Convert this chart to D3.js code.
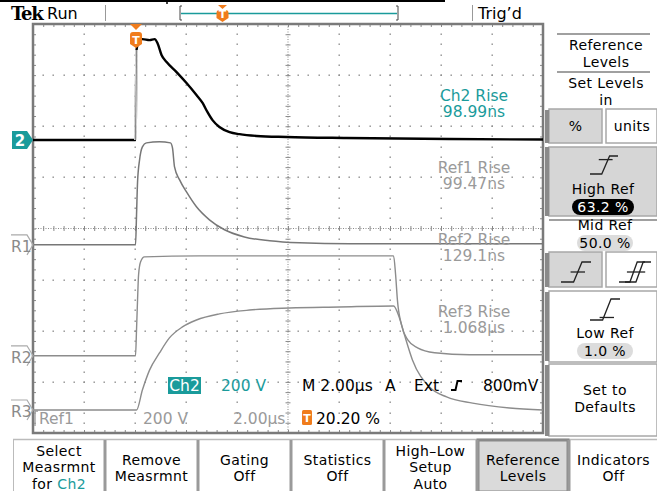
<!DOCTYPE html>
<html>
<head>
<meta charset="utf-8">
<script src="https://cdn.jsdelivr.net/npm/d3@7/dist/d3.min.js"></script>
<style>
  body { margin: 0; background: #fff; }
  svg { display: block; font-family: 'DejaVu Sans', sans-serif; }
</style>
</head>
<body>
<script>
/**
 * Scope screen: rise time of Ch2 and three reference traces
 **/

var svg, x, yDiv;

// Colours
var teal = '#1a9b9b',
    orange = '#f07c1c',
    refColor = '#8c8c8c',
    textGray = '#9a9a9a',
    gridColor = '#8a8a8a';

// Acquisition settings
var timePerDiv = 2.00,   // µs
    voltsPerDiv = 200,   // V
    triggerPct = 20.20,
    xDivs = 10,
    yDivs = 8;

// Ch2 (time in µs, volts)
var ch2Time  = [-4.04, -0.02, 0.02, 0.10, 0.25, 0.53, 0.73, 0.84, 1.00, 1.20, 1.59, 1.98, 2.37, 2.61, 2.80, 3.00, 3.27, 3.67, 4.06, 4.73, 5.90, 8.25, 12.3, 15.96];
var ch2Volts = [0, 0, 352, 383, 395, 391, 395, 380, 333, 305, 266, 223, 176, 145, 110, 78, 51, 31, 23, 16, 12, 8, 4, 2];

// Ref1
var ref1Time  = [-4.04, -0.02, 0.02, 0.06, 0.14, 0.25, 0.41, 0.92, 1.35, 1.43, 1.51, 1.71, 1.98, 2.37, 2.88, 3.47, 4.25, 5.24, 6.41, 8.37, 15.96];
var ref1Volts = [0, 0, 117, 246, 333, 383, 399, 403, 399, 379, 305, 254, 207, 149, 98, 59, 31, 16, 8, 4, 4];

// Ref2
var ref2Time  = [-4.04, -0.02, 0.02, 0.06, 0.10, 0.18, 0.33, 2.49, 6.41, 10.1, 10.18, 10.25, 10.41, 10.65, 11.04, 11.71, 13.08, 15.96];
var ref2Volts = [0, 0, 102, 219, 317, 368, 387, 391, 391, 391, 317, 219, 121, 63, 31, 12, 4, 4];

// Ref3
var ref3Time  = [-4.04, 0.02, 0.25, 0.53, 0.92, 1.31, 1.82, 2.37, 3.27, 4.45, 6.02, 7.98, 10.1, 10.33, 10.53, 10.84, 11.51, 12.18, 13.2, 14.65, 15.96];
var ref3Volts = [0, 0, 78, 156, 223, 282, 325, 352, 376, 391, 399, 403, 407, 360, 293, 196, 90, 51, 27, 8, 0];

// Ground marker positions, in divisions from centre
var markerNames = ['2', 'R1', 'R2', 'R3'],
    markerOffsets = [1.73, -0.32, -2.49, -3.55];

// Measurement readouts
var measNames  = ['Ch2 Rise', 'Ref1 Rise', 'Ref2 Rise', 'Ref3 Rise'],
    measValues = ['98.99ns', '99.47ns', '129.1ns', '1.068\u00b5s'];

// Bottom menu labels
var bottomLabels = [
    ['Select', 'Measrmnt', 'for Ch2'],
    ['Remove', 'Measrmnt'],
    ['Gating', 'Off'],
    ['Statistics', 'Off'],
    ['High\u2013Low', 'Setup', 'Auto'],
    ['Reference', 'Levels'],
    ['Indicators', 'Off']
];

// Reference level values
var refLevelNames = ['High Ref', 'Mid Ref', 'Low Ref'],
    refLevelValues = ['63.2 %', '50.0 %', '1.0 %'];

init();

function init() {
    svg = d3.select('body').append('svg')
        .attr('width', 657)
        .attr('height', 491);

    x = d3.scaleLinear()
        .domain([-triggerPct / 100 * xDivs * timePerDiv, (1 - triggerPct / 100) * xDivs * timePerDiv])
        .range([33, 543]);
    yDiv = d3.scaleLinear()
        .domain([-yDivs / 2, yDivs / 2])
        .range([433, 24]);

    drawTopBar();
    drawGraticule();
    drawTraces();
    drawMarkers();
    drawReadouts();
    drawSideMenu();
    drawBottomMenu();
}

function txt(g, xx, yy, s, opts) {
    opts = opts || {};
    return g.append('text')
        .attr('x', xx).attr('y', yy)
        .attr('text-anchor', opts.anchor || 'start')
        .attr('font-size', opts.size || 15)
        .attr('font-weight', opts.weight || 'normal')
        .attr('fill', opts.fill || '#000')
        .text(s);
}

function trigShield(g, cx, top, h) {
    // small orange "T" flag
    var w = 12;
    g.append('path')
        .attr('d', 'M' + (cx - w / 2) + ',' + (top + 3) + ' Q' + (cx - w / 2) + ',' + top + ' ' + (cx - w / 2 + 3) + ',' + top +
            ' H' + (cx + w / 2 - 3) + ' Q' + (cx + w / 2) + ',' + top + ' ' + (cx + w / 2) + ',' + (top + 3) +
            ' V' + (top + h - 4) + ' L' + cx + ',' + (top + h) + ' L' + (cx - w / 2) + ',' + (top + h - 4) + 'Z')
        .attr('fill', orange);
    txt(g, cx, top + h - 4.5, 'T', {anchor: 'middle', size: 11, weight: 'bold', fill: '#fff'});
}

function drawTopBar() {
    var g = svg.append('g');
    g.append('line').attr('x1', 0).attr('x2', 445).attr('y1', 1).attr('y2', 1)
        .attr('stroke', '#000').attr('stroke-width', 2);
    g.append('line').attr('x1', 167).attr('x2', 167).attr('y1', 0).attr('y2', 4)
        .attr('stroke', '#000').attr('stroke-width', 1.5);

    txt(g, 11, 20, 'Tek', {size: 18, weight: 'bold'}).attr('letter-spacing', -1.3)
        .attr('font-family', 'DejaVu Serif');
    txt(g, 47, 19, 'Run', {size: 16});

    g.append('line').attr('x1', 105.5).attr('x2', 105.5).attr('y1', 5).attr('y2', 21)
        .attr('stroke', '#999');
    g.append('line').attr('x1', 472.5).attr('x2', 472.5).attr('y1', 5).attr('y2', 21)
        .attr('stroke', '#999');

    // record view bracket
    g.append('path').attr('d', 'M182,6 H180 V20 H182').attr('fill', 'none').attr('stroke', '#444');
    g.append('path').attr('d', 'M396,6 H398 V20 H396').attr('fill', 'none').attr('stroke', '#444');
    g.append('line').attr('x1', 181).attr('x2', 397).attr('y1', 13.5).attr('y2', 13.5)
        .attr('stroke', teal).attr('stroke-width', 1.5);
    g.append('path').attr('d', 'M218,5 H227 L222.5,9 Z').attr('fill', orange);
    trigShield(g, 222.5, 10, 12);

    txt(g, 478, 19, 'Trig\u2019d', {size: 16});
}

function drawGraticule() {
    var g = svg.append('g');
    var x0 = x.range()[0], x1 = x.range()[1],
        yT = yDiv.range()[1], yB = yDiv.range()[0];
    var t0 = x.domain()[0];

    var xMajor = d3.range(1, xDivs).map(function(i) { return t0 + i * timePerDiv; });
    var xMinor = d3.range(0, xDivs * 5 + 1).map(function(i) { return t0 + i * timePerDiv / 5; });
    var yMajor = d3.range(-yDivs / 2 + 1, yDivs / 2);
    var yMinor = d3.range(0, yDivs * 5 + 1).map(function(i) { return -yDivs / 2 + i * 0.2; });
    var xCenter = t0 + xDivs / 2 * timePerDiv;

    // dotted grid lines
    xMajor.forEach(function(t) {
        if (Math.abs(t - xCenter) < 1e-6) return;
        g.selectAll(null).data(yMinor.slice(1, -1)).enter().append('rect')
            .attr('x', Math.round(x(t)) - 0.5).attr('y', function(d) { return Math.round(yDiv(d)) - 0.5; })
            .attr('width', 1.4).attr('height', 1.4).attr('fill', gridColor);
    });
    yMajor.forEach(function(v) {
        if (v === 0) return;
        g.selectAll(null).data(xMinor.slice(1, -1)).enter().append('rect')
            .attr('x', function(d) { return Math.round(x(d)) - 0.5; }).attr('y', Math.round(yDiv(v)) - 0.5)
            .attr('width', 1.4).attr('height', 1.4).attr('fill', gridColor);
    });

    // centre crosshair
    g.append('line').attr('x1', x0).attr('x2', x1).attr('y1', yDiv(0)).attr('y2', yDiv(0))
        .attr('stroke', gridColor).attr('stroke-dasharray', '1,1.5');
    g.append('line').attr('x1', x(xCenter)).attr('x2', x(xCenter)).attr('y1', yT).attr('y2', yB)
        .attr('stroke', gridColor).attr('stroke-dasharray', '1,1.5');

    var hTicks = d3.axisBottom(x).tickValues(xMinor).tickSize(5).tickFormat('');
    var vTicks = d3.axisRight(yDiv).tickValues(yMinor).tickSize(5).tickFormat('');

    g.append('g').attr('transform', 'translate(0,' + (yDiv(0) - 2.5) + ')').call(hTicks);
    g.append('g').attr('transform', 'translate(' + (x(xCenter) - 2.5) + ',0)').call(vTicks);

    // border ticks
    g.append('g').attr('transform', 'translate(0,' + yT + ')').call(d3.axisBottom(x).tickValues(xMinor).tickSize(3).tickFormat(''));
    g.append('g').attr('transform', 'translate(0,' + yB + ')').call(d3.axisTop(x).tickValues(xMinor).tickSize(3).tickFormat(''));
    g.append('g').attr('transform', 'translate(' + x0 + ',0)').call(d3.axisRight(yDiv).tickValues(yMinor).tickSize(3).tickFormat(''));
    g.append('g').attr('transform', 'translate(' + x1 + ',0)').call(d3.axisLeft(yDiv).tickValues(yMinor).tickSize(3).tickFormat(''));

    g.selectAll('.domain').remove();
    g.selectAll('.tick line').attr('stroke', gridColor).attr('stroke-width', 1);

    g.append('rect').attr('x', x0).attr('y', yT).attr('width', x1 - x0).attr('height', yB - yT)
        .attr('fill', 'none').attr('stroke', '#7a7a7a').attr('stroke-width', 2.5);
}

function drawTraces() {
    var g = svg.append('g');
    var traces = [
        {time: ref3Time, volts: ref3Volts, off: markerOffsets[3], color: refColor, w: 1.4},
        {time: ref2Time, volts: ref2Volts, off: markerOffsets[2], color: refColor, w: 1.4},
        {time: ref1Time, volts: ref1Volts, off: markerOffsets[1], color: '#777', w: 1.5},
        {time: ch2Time, volts: ch2Volts, off: markerOffsets[0], color: '#000', w: 2.4}
    ];
    traces.forEach(function(tr) {
        var line = d3.line()
            .x(function(d) { return x(d[0]); })
            .y(function(d) { return yDiv(tr.off + d[1] / voltsPerDiv); })
            .curve(d3.curveMonotoneX);
        g.append('path')
            .attr('d', line(d3.zip(tr.time, tr.volts)))
            .attr('fill', 'none')
            .attr('stroke', tr.color)
            .attr('stroke-width', tr.w)
            .attr('stroke-linejoin', 'round');
    });

    // fast Ch2 edge shows dim on the display
    var edge = d3.line()
        .x(function(d) { return x(d[0]); })
        .y(function(d) { return yDiv(markerOffsets[0] + d[1] / voltsPerDiv); });
    g.append('path')
        .attr('d', edge(d3.zip(ch2Time.slice(1, 3), ch2Volts.slice(1, 3))))
        .attr('fill', 'none').attr('stroke', '#fff').attr('stroke-width', 2.6);
    g.append('path')
        .attr('d', edge(d3.zip(ch2Time.slice(1, 3), ch2Volts.slice(1, 3))))
        .attr('fill', 'none').attr('stroke', '#888').attr('stroke-width', 1.3);

    // trigger position marker
    var tx = x(0);
    g.append('path').attr('d', 'M' + (tx - 6) + ',24 H' + (tx + 6) + ' L' + tx + ',30 Z').attr('fill', orange);
    trigShield(g, tx, 32, 16);
}

function drawMarkers() {
    var g = svg.append('g');
    markerNames.forEach(function(name, i) {
        var yy = yDiv(markerOffsets[i]);
        var pts = [[12, yy - 9], [27, yy - 9], [33, yy], [27, yy + 9], [12, yy + 9]];
        if (i === 0) {
            g.append('polygon').attr('points', pts.join(' ')).attr('fill', teal);
            txt(g, 20, yy + 6, name, {anchor: 'middle', size: 15, weight: 'bold', fill: '#fff'});
        } else {
            g.append('path')
                .attr('d', 'M11,' + (yy - 10) + ' H27 L33,' + yy + ' L27,' + (yy + 10))
                .attr('fill', 'none').attr('stroke', '#aaa').attr('stroke-width', 1.2);
            txt(g, 11, yy + 7, name, {size: 15.5, fill: '#8a8a8a'});
        }
    });
}

function drawReadouts() {
    var g = svg.append('g');

    // measurement values
    measNames.forEach(function(name, i) {
        var yc = [95, 167, 239, 311][i];
        var col = i === 0 ? teal : textGray;
        txt(g, 474, yc + 5.5, name, {anchor: 'middle', size: 15.5, fill: col});
        txt(g, 474, yc + 22, measValues[i], {anchor: 'middle', size: 15.5, fill: col});
    });

    // status line 1
    g.append('rect').attr('x', 168).attr('y', 377).attr('width', 33).attr('height', 17).attr('fill', teal);
    txt(g, 184.5, 391, 'Ch2', {anchor: 'middle', size: 15.5, fill: '#fff'});
    txt(g, 221, 391, voltsPerDiv + ' V', {size: 15.5, fill: teal});
    txt(g, 302, 391, 'M 2.00\u00b5s', {size: 15.5});
    txt(g, 385, 391, 'A', {size: 15.5});
    txt(g, 414, 391, 'Ext', {size: 15.5});
    g.append('path').attr('d', 'M451,390 H455.5 L457.5,381 H462').attr('fill', 'none')
        .attr('stroke', '#000').attr('stroke-width', 2);
    txt(g, 483, 391, '800mV', {size: 15.5});

    // status line 2
    g.append('path').attr('d', 'M38,411 H35 V426').attr('fill', 'none').attr('stroke', textGray).attr('stroke-width', 1.3);
    txt(g, 39, 424, 'Ref1', {size: 15.5, fill: textGray});
    txt(g, 143, 424, voltsPerDiv + ' V', {size: 15.5, fill: textGray});
    txt(g, 233, 424, '2.00\u00b5s', {size: 15.5, fill: textGray});
    g.append('rect').attr('x', 302).attr('y', 410).attr('width', 10).attr('height', 15).attr('rx', 1.5).attr('fill', orange);
    txt(g, 307, 422, 'T', {anchor: 'middle', size: 11, weight: 'bold', fill: '#fff'});
    txt(g, 316, 424, triggerPct.toFixed(2) + ' %', {size: 15.5});
}

function stepIcon(g, x0, y0, w, h, levelFrac, dbl) {
    // low line, slanted edge, high line, plus the crossing level tick
    var xr = x0 + w * 0.42, xe = x0 + w * 0.7;
    var path = 'M' + x0 + ',' + (y0 + h) + ' H' + xr + ' L' + xe + ',' + y0 + ' H' + (x0 + w);
    g.append('path').attr('d', path).attr('fill', 'none').attr('stroke', '#222').attr('stroke-width', 1.3);
    if (dbl) {
        var d2 = 'M' + (x0 + 6) + ',' + (y0 + h) + ' H' + (xr + 6) + ' L' + (xe + 6) + ',' + y0 + ' H' + (x0 + w + 6);
        g.append('path').attr('d', d2).attr('fill', 'none').attr('stroke', '#222').attr('stroke-width', 1.3);
    }
    var ly = y0 + h * (1 - levelFrac);
    g.append('line').attr('x1', xr - 3).attr('x2', xe + (dbl ? 8 : 3)).attr('y1', ly).attr('y2', ly)
        .attr('stroke', '#222').attr('stroke-width', 1.3);
}

function drawSideMenu() {
    var g = svg.append('g');
    var boxFill = '#d6d6d6', boxStroke = '#a8a8a8';
    var fs = 14;

    function label(xx, yy, s) {
        return txt(g, xx, yy, s, {anchor: 'middle', size: fs}).attr('letter-spacing', 0.4);
    }
    function hline(yy) {
        g.append('line').attr('x1', 557).attr('x2', 650).attr('y1', yy).attr('y2', yy)
            .attr('stroke', '#a0a0a0').attr('stroke-width', 2);
    }
    function box(x0, y0, w, h, fill) {
        g.append('rect').attr('x', x0).attr('y', y0).attr('width', w).attr('height', h)
            .attr('fill', fill).attr('stroke', boxStroke).attr('stroke-width', 1.5);
    }
    function pill(cx, cy, w, fill, col, s) {
        g.append('rect').attr('x', cx - w / 2).attr('y', cy - 8).attr('width', w).attr('height', 16)
            .attr('rx', 8).attr('fill', fill);
        txt(g, cx, cy + 5, s, {anchor: 'middle', size: 14, fill: col}).attr('letter-spacing', 0.4);
    }

    hline(34);
    label(606, 50, 'Reference');
    label(606, 66.5, 'Levels');
    hline(72);
    label(606, 88, 'Set Levels');
    label(606, 104.5, 'in');

    box(549, 109, 53, 34, boxFill);
    label(575.5, 131, '%');
    box(606, 109, 51, 34, '#fff');
    label(632, 131, 'units');

    box(549, 147, 108, 69, boxFill);
    stepIcon(g, 590, 156, 28, 18, 0.8);
    label(603, 194, refLevelNames[0]);
    pill(603, 207, 62, '#000', '#fff', refLevelValues[0]);

    g.append('line').attr('x1', 549).attr('x2', 657).attr('y1', 220).attr('y2', 220)
        .attr('stroke', '#a0a0a0').attr('stroke-width', 2);
    label(605, 230, refLevelNames[1]);
    pill(605, 243, 56, '#dcdcdc', '#000', refLevelValues[1]);

    box(549, 252, 53, 35, boxFill);
    stepIcon(g, 561, 262, 30, 20, 0.5);
    box(606, 252, 51, 35, '#fff');
    stepIcon(g, 619, 262, 26, 20, 0.5, true);

    box(549, 291, 108, 71, '#fff');
    stepIcon(g, 590, 299, 30, 21, 0.12);
    label(605, 338, refLevelNames[2]);
    pill(605, 351, 56, '#dcdcdc', '#000', refLevelValues[2]);

    box(549, 364, 108, 72, '#fff');
    label(605, 395, 'Set to');
    label(605, 412, 'Defaults');

    // bezel edges
    [[110, 143], [147, 216], [253, 287], [292, 361], [365, 436]].forEach(function(r) {
        g.append('rect').attr('x', 545).attr('y', r[0]).attr('width', 4).attr('height', r[1] - r[0])
            .attr('fill', '#8a8a8a');
    });
}

function drawBottomMenu() {
    var g = svg.append('g');
    var edges = [13, 105, 198, 291, 384, 477, 569, 660];

    g.append('line').attr('x1', 13).attr('x2', 657).attr('y1', 439.5).attr('y2', 439.5)
        .attr('stroke', '#bbb').attr('stroke-width', 1.5);

    // highlighted "Reference Levels" button
    g.append('rect').attr('x', 478).attr('y', 440).attr('width', 90).attr('height', 52)
        .attr('fill', '#dadada').attr('stroke', '#8a8a8a').attr('stroke-width', 3);

    edges.slice(1, -1).forEach(function(e) {
        g.append('rect').attr('x', e - 1.5).attr('y', 440).attr('width', 3).attr('height', 51).attr('fill', '#9a9a9a');
    });
    g.append('line').attr('x1', 13.5).attr('x2', 13.5).attr('y1', 440).attr('y2', 491).attr('stroke', '#bbb');

    bottomLabels.forEach(function(lines, i) {
        var cx = (edges[i] + edges[i + 1]) / 2 + (i === 6 ? -1 : 0);
        var step = 16.3;
        var start = lines.length === 3 ? 451 : 460;
        lines.forEach(function(s, j) {
            var t = txt(g, cx, start + j * step + 5, '', {anchor: 'middle', size: 14}).attr('letter-spacing', 0.4);
            if (s === 'for Ch2') {
                t.append('tspan').text('for ');
                t.append('tspan').attr('fill', teal).text('Ch2');
            } else {
                t.text(s);
            }
        });
    });
}
</script>
</body>
</html>
